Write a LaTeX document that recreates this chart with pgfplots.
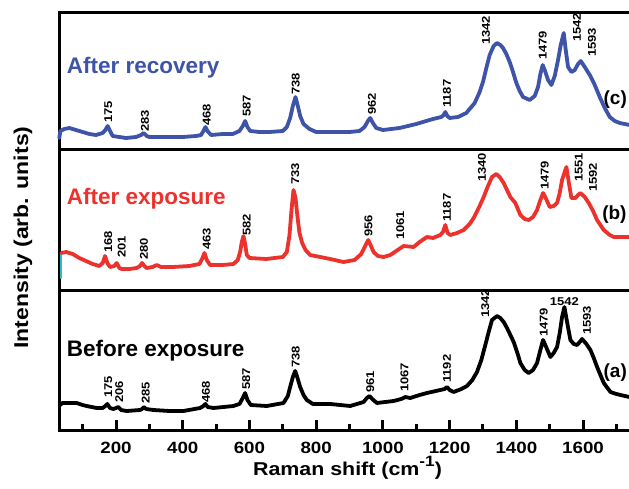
\documentclass[border=0pt]{standalone}
\usepackage{pgfplots}
\pgfplotsset{compat=1.18}
\usepackage{fontspec}
\setmainfont{Liberation Sans}
\newfontfamily\sst[FakeStretch=1.15]{Liberation Sans}
\newfontfamily\pks[FakeStretch=1.15]{Liberation Sans}
\definecolor{cblue}{RGB}{62,84,168}
\definecolor{cred}{RGB}{236,50,45}
\definecolor{ccyan}{RGB}{40,190,200}
\pgfplotsset{panel/.style={scale only axis, width=590.5pt, xmin=30, xmax=1800, ymin=0,
  axis line style={line width=3pt, line cap=rect}, ytick=\empty, clip=false,
  every axis plot/.append style={line width=3.8pt, line join=round, line cap=round}}}
\newcommand\pk[3]{\node[rotate=90,anchor=west,inner sep=0pt,font=\pks\bfseries\fontsize{11.3}{12}\selectfont] at (axis cs:#1,#2) {#3};}
\newcommand\ttl[4]{\node[anchor=base west,inner sep=0pt,text=#4,font=\bfseries\fontsize{22.5}{24}\selectfont] at (axis cs:#1,#2) {#3};}
\newcommand\plab[3]{\node[anchor=west,inner sep=0pt,font=\bfseries\fontsize{19}{21}\selectfont] at (axis cs:#1,#2) {#3};}
\begin{document}
\begin{tikzpicture}
\useasboundingbox (0pt,0pt) rectangle (629pt,488pt);
\clip (0pt,0pt) rectangle (629pt,488pt);
% ---------- bottom panel (a) ----------
\begin{axis}[panel, at={(59.3pt,58pt)}, anchor=south west, height=140pt, ymax=140,
  xtick={200,400,...,1600}, minor xtick={100,300,...,1700}, xtick pos=lower, tick align=inside,
  major tick length=10pt, minor tick length=6pt, tick style={line width=3pt, black},
  xticklabel style={font=\sst\bfseries\fontsize{16.3}{18}\selectfont, anchor=base, yshift=-23.3pt, inner sep=0pt},
  /pgf/number format/assume math mode=true, /pgf/number format/set thousands separator={}]
\addplot[black] coordinates {(32,25)(40,27)(60,27)(82,27)(100,25)(112,24)(142,22)(160,22)(168,24)(174,26)(182,22)(192,21)(200,22)(207,23)(215,20)(232,19)(272,20)(278,21)(284,23)(290,21)(312,20)(360,19)(402,19)(452,22)(462,24)(468,26)(475,23)(492,22)(552,24)(570,26)(580,32)(587,37)(594,30)(604,25)(652,24)(702,27)(715,34)(722,43)(730,53)(737,59)(744,52)(752,43)(762,35)(772,30)(790,26)(812,26)(842,26)(902,24)(942,28)(952,32)(960,34)(968,31)(982,27)(1032,29)(1055,31)(1067,33)(1082,32)(1110,35)(1132,37)(1172,40)(1185,41)(1192,43)(1200,40)(1212,38)(1235,41)(1252,44)(1268,50)(1282,58)(1295,70)(1307,85)(1317,98)(1327,110)(1342,114)(1352,112)(1362,108)(1372,102)(1382,95)(1392,88)(1397,83)(1405,75)(1412,67)(1425,60)(1437,57)(1450,60)(1462,67)(1472,80)(1480,90)(1488,84)(1502,73)(1512,77)(1522,83)(1530,97)(1537,113)(1544,123)(1552,108)(1562,90)(1572,86)(1582,85)(1590,88)(1597,91)(1610,86)(1622,80)(1632,72)(1642,63)(1652,55)(1662,47)(1682,38)(1700,36)(1712,35)(1739,33)(1800,32)};
\ttl{52}{74}{Before exposure}{black}
\pk{177}{32}{175}\pk{210}{27}{206}\pk{289}{26}{285}\pk{470}{27}{468}\pk{590}{40}{587}\pk{739}{62}{738}
\pk{962}{37}{961}\pk{1065}{38}{1067}\pk{1192}{47}{1192}\pk{1307}{112}{1342}\pk{1482}{93}{1479}\pk{1612}{95}{1593}
\node[anchor=base,inner sep=0pt,font=\pks\bfseries\fontsize{11.3}{12}\selectfont] at (axis cs:1544,125) {1542};
\plab{1661}{57}{(a)}
\end{axis}
% ---------- middle panel (b) ----------
\begin{axis}[panel, at={(59.3pt,198pt)}, anchor=south west, height=140pt, ymax=140, xtick=\empty]
\addplot[ccyan, line width=2pt] coordinates {(36,12)(36,37)};
\addplot[cred] coordinates {(36,37)(50,38)(70,36)(90,32)(110,29)(130,26)(150,24)(160,27)(167,34)(174,27)(182,23)(195,24)(202,27)(210,22)(217,21)(240,21)(262,22)(272,24)(278,27)(285,24)(292,22)(310,23)(322,25)(335,23)(370,23)(420,24)(450,26)(458,31)(465,37)(472,30)(482,25)(520,25)(552,26)(565,30)(572,38)(577,48)(582,54)(587,46)(592,35)(600,32)(650,31)(700,33)(712,38)(720,55)(726,80)(732,100)(738,92)(744,73)(750,57)(758,47)(768,40)(782,35)(812,33)(842,31)(882,28)(915,30)(935,36)(947,44)(956,50)(963,45)(972,38)(985,34)(1002,33)(1022,35)(1040,39)(1062,44)(1092,43)(1110,48)(1132,53)(1150,52)(1172,55)(1180,58)(1187,65)(1194,57)(1202,55)(1222,57)(1242,60)(1260,66)(1272,72)(1290,84)(1302,93)(1315,104)(1327,113)(1340,116)(1350,113)(1362,107)(1372,100)(1382,93)(1397,87)(1412,75)(1425,71)(1437,70)(1450,73)(1462,80)(1472,90)(1480,97)(1488,92)(1500,83)(1512,84)(1522,87)(1530,97)(1537,110)(1550,123)(1557,108)(1565,92)(1577,92)(1585,95)(1592,97)(1605,93)(1617,87)(1630,79)(1642,70)(1662,60)(1680,55)(1692,53)(1740,53)(1800,52)};
\ttl{52}{85}{After exposure}{cred}
\pk{177}{37}{168}\pk{217}{32}{201}\pk{284}{30}{280}\pk{472}{40}{463}\pk{592}{54}{582}\pk{737}{105}{733}
\pk{957}{53}{956}\pk{1052}{50}{1061}\pk{1192}{68}{1187}\pk{1297}{108}{1340}\pk{1485}{100}{1479}\pk{1587}{108}{1551}\pk{1630}{98}{1592}
\plab{1657}{75}{(b)}
\end{axis}
% ---------- top panel (c) ----------
\begin{axis}[panel, at={(59.3pt,338pt)}, anchor=south west, height=137pt, ymax=137, xtick=\empty]
\addplot[cblue] coordinates {(30,12)(33,19)(45,21)(60,22)(80,20)(100,18)(120,16)(140,15)(150,16)(160,17)(168,20)(175,24)(182,19)(190,14)(210,13)(230,12)(260,13)(275,15)(283,17)(292,14)(300,13)(350,13)(400,13)(440,14)(455,15)(462,19)(468,23)(474,19)(485,15)(520,16)(550,16)(570,19)(580,24)(587,29)(594,23)(602,19)(630,18)(660,18)(700,19)(712,23)(722,32)(730,44)(738,53)(745,44)(752,34)(762,26)(780,21)(800,18)(850,18)(900,18)(930,19)(945,23)(955,29)(962,32)(970,27)(980,22)(1000,20)(1050,22)(1100,26)(1150,31)(1175,33)(1182,35)(1187,38)(1193,34)(1200,32)(1225,33)(1250,37)(1275,47)(1290,58)(1300,68)(1310,82)(1320,95)(1332,104)(1342,107)(1352,105)(1360,102)(1370,96)(1380,88)(1390,78)(1400,67)(1410,59)(1420,53)(1440,50)(1455,54)(1465,63)(1472,76)(1479,85)(1486,79)(1495,70)(1505,65)(1515,74)(1525,90)(1533,105)(1542,117)(1548,100)(1555,83)(1565,78)(1575,80)(1585,86)(1593,89)(1605,83)(1620,75)(1635,65)(1650,53)(1665,42)(1680,33)(1695,29)(1710,27)(1740,25)(1770,24)(1800,24)};
\ttl{52}{76}{After recovery}{cblue}
\pk{177}{27}{175}\pk{287}{18}{283}\pk{472}{24}{468}\pk{592}{33}{587}\pk{739}{55}{738}
\pk{967}{35}{962}\pk{1192}{42}{1187}\pk{1309}{105}{1342}\pk{1479}{90}{1479}\pk{1582}{108}{1542}\pk{1627}{93}{1593}
\plab{1661}{50}{(c)}
\end{axis}
% ---------- axis titles ----------
\node[rotate=90,inner sep=0pt,font=\sst\bfseries\fontsize{20}{22}\selectfont] at (23pt,250.5pt) {Intensity (arb. units)};
\node[anchor=base,inner sep=0pt,font=\sst\bfseries\fontsize{18.6}{20}\selectfont] at (347.5pt,13pt) {Raman shift (cm\raisebox{0.45em}{\fontsize{15}{16}\selectfont -1})};
\end{tikzpicture}
\end{document}
